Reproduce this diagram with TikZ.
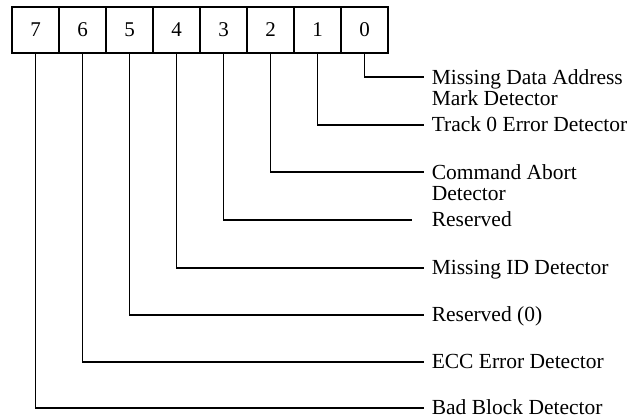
\documentclass[tikz,border=0pt]{standalone}
\usepackage{fontspec}
\setmainfont{Liberation Serif}
\usepackage{tikz}
\usetikzlibrary{positioning}
\tikzset{>=stealth}

\begin{document}
\begin{tikzpicture}[x=1pt, y=-1pt, line width=1.5pt,
	cell/.style={draw, minimum width=47pt, minimum height=46pt, inner sep=0pt, font=\fontsize{21}{22}\selectfont},
	lbl/.style={inner sep=0pt, align=left, font=\fontsize{21.5}{21}\selectfont}]

		\useasboundingbox (0,0) rectangle (642,418);
		
		\foreach \b in {0,...,7}
		{\node[cell] (b\b) at ({364.5-47*\b},30) {\b};
		}
		
		\coordinate (e0) at (424,77);
		\coordinate (e1) at (424,125);
		\coordinate (e2) at (424,172);
		\coordinate (e3) at (412,220);
		\coordinate (e4) at (424,268);
		\coordinate (e5) at (424,315);
		\coordinate (e6) at (424,362);
		\coordinate (e7) at (424,408);
		
		\node[lbl, anchor=north west] (l0) at (431,69) {Missing Data Address\\Mark Detector};
		\node[lbl, anchor=base west] (l1) at (431,131) {Track 0 Error Detector};
		\node[lbl, anchor=north west] (l2) at (431,164) {Command Abort\\Detector};
		\node[lbl, anchor=base west] (l3) at (431,226) {Reserved};
		\node[lbl, anchor=base west] (l4) at (431,274) {Missing ID Detector};
		\node[lbl, anchor=base west] (l5) at (431,321) {Reserved (0)};
		\node[lbl, anchor=base west] (l6) at (431,368) {ECC Error Detector};
		\node[lbl, anchor=base west] (l7) at (431,414) {Bad Block Detector};
		
		\foreach \b in {0,...,7}
		{\draw (b\b.south) |- (e\b);
		}
		\end{tikzpicture}
\end{document}
